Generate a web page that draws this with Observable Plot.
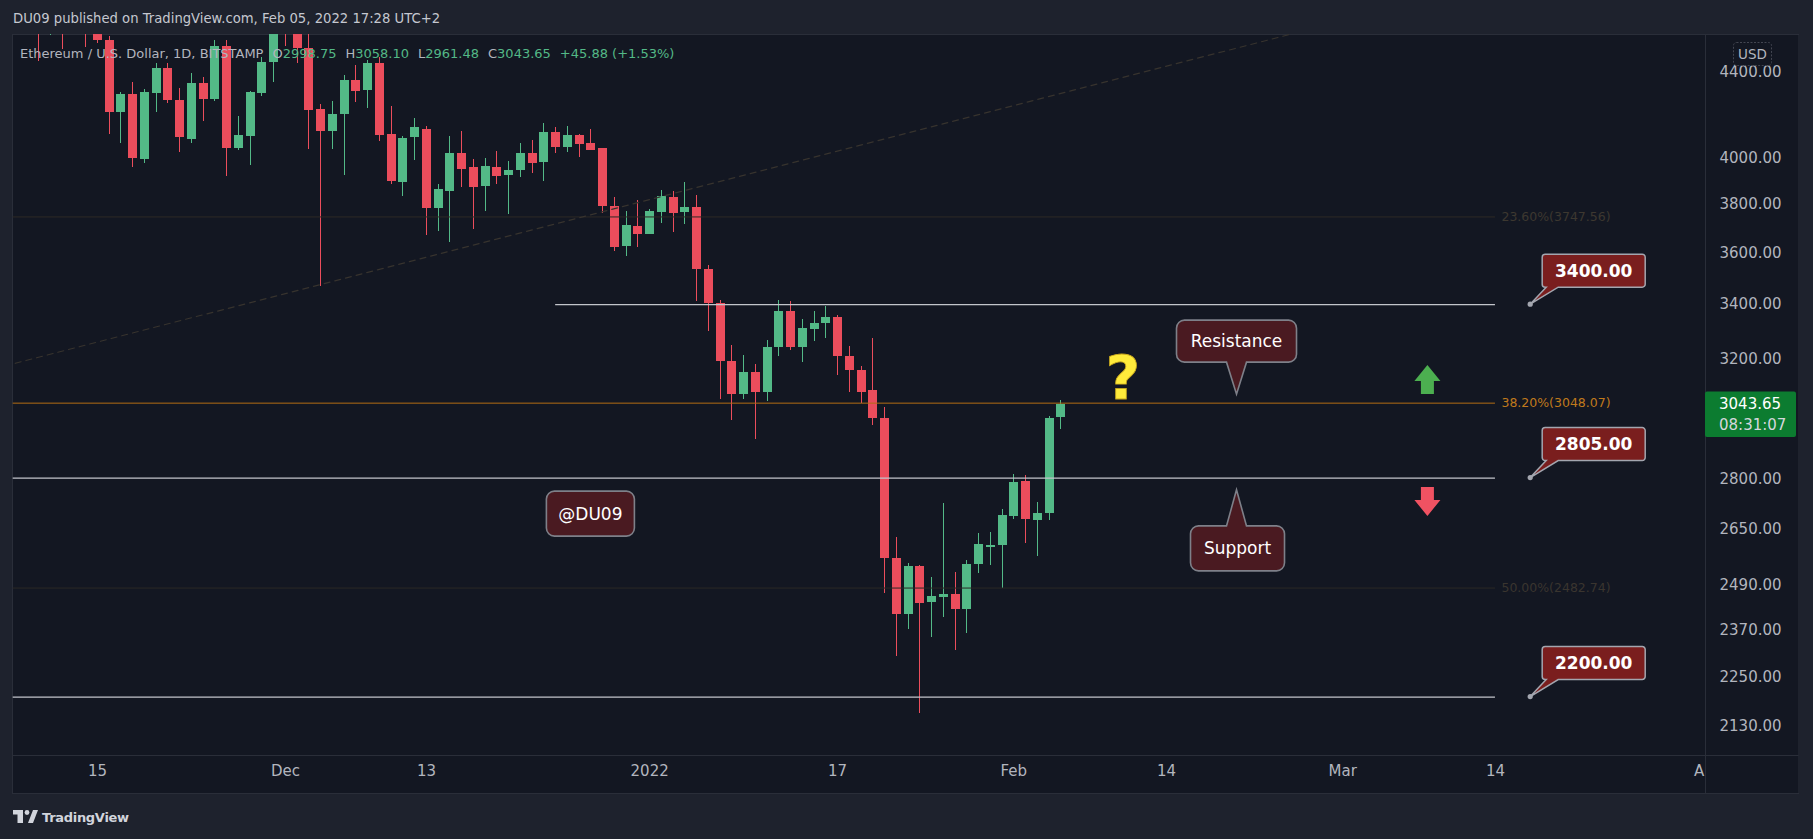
<!DOCTYPE html>
<html><head><meta charset="utf-8">
<script src="https://cdn.jsdelivr.net/npm/d3@7"></script>
<script src="https://cdn.jsdelivr.net/npm/@observablehq/plot@0.6"></script>
<style>
html,body{margin:0;padding:0;background:#1e222d;overflow:hidden;}
#chart svg{display:block}
</style></head><body><div id="chart"></div>
<script>
// ---------- data ----------
const firstDay = "2021-11-09", lastDay = "2022-02-05";
const open = [
 4810,4730,4630,4722,4665,4648,4626,4558,4209,4293,3996,4299,4419,4264,4085,4346,4271,4528,4045,4099,4299,4448,
 4630,4590,4518,4222,4122,4199,4360,4312,4443,4106,3894,4092,4129,3784,3856,4021,3959,3878,3959,3925,3947,4021,3982,4116,4049,4102,4066,4043,3793,3628,3708,
 3677,3767,3829,3767,3787,3536,3403,3193,3079,3154,3083,3242,3374,3242,3309,3330,3352,3211,3162,3090,2998,2566,2412,2543,2444,2458,2465,2425,2549,2598,2603,
 2689,2794,2677,2697,2998.75];
const high = [
 4840,4868,4778,4808,4707,4690,4774,4580,4302,4350,4315,4443,4443,4322,4394,4375,4558,4558,4189,4305,4471,4780,
 4780,4612,4650,4246,4260,4384,4433,4458,4474,4236,4097,4180,4143,3885,4097,4120,3994,3999,4030,3985,4066,4079,4157,4139,4143,4106,4129,4045,3829,3770,3818,
 3778,3859,3855,3894,3838,3551,3416,3249,3214,3182,3268,3416,3412,3345,3374,3393,3359,3246,3175,3275,3033,2626,2551,2545,2512,2727,2526,2560,2638,2641,2709,
 2816,2813,2730,3002,3058.10];
const low = [
 4700,4454,4585,4513,4600,4521,4545,4107,4067,3960,3978,4209,4252,4027,4067,4168,4258,3921,4036,3969,4285,4352,
 4528,4442,4039,3470,4039,3924,4255,4227,4076,3886,3834,3990,3672,3689,3644,3871,3697,3772,3886,3759,3917,3934,3899,4022,4027,4004,4034,3763,3608,3588,3624,
 3675,3722,3685,3718,3413,3301,3061,2991,3061,2929,3055,3211,3233,3190,3265,3276,3144,3085,3048,2974,2469,2302,2372,2161,2351,2404,2317,2361,2524,2547,2482,
 2680,2609,2572,2677,2961.48];
const close = [
 4730,4630,4722,4665,4648,4626,4558,4209,4293,4000,4302,4419,4264,4094,4346,4271,4528,4045,4102,4302,4448,4630,
 4590,4518,4217,4122,4199,4360,4307,4443,4102,3898,4088,4139,3784,3863,4021,3950,3873,3963,3921,3946,4021,3978,4116,4049,4102,4063,4036,3793,3624,3712,3677,
 3770,3834,3763,3787,3536,3403,3193,3079,3154,3083,3242,3374,3242,3311,3330,3352,3211,3162,3083,2998,2566,2412,2543,2441,2460,2465,2425,2549,2606,2603,2691,
 2791,2680,2697,2997.77,3043.65];

const priceTicks = [4400, 4000, 3800, 3600, 3400, 3200, 2800, 2650, 2490, 2370, 2250, 2130];
const timeTickDates = ["2021-11-15","2021-12-01","2021-12-13","2022-01-01","2022-01-17","2022-02-01","2022-02-14","2022-03-01","2022-03-14","2022-04-01"];
const timeTickLabels = ["15","Dec","13","2022","17","Feb","14","Mar","14","Apr"];

const levels = [3400, 2805, 2200];
const levelStart = ["2021-12-24", "2021-11-01", "2021-11-01"];
const drawEnd = "2022-03-14";
const tagDate = "2022-03-17";

const fibValues = [3747.56, 3048.07, 2482.74];
const fibNames = ["23.60%", "38.20%", "50.00%"];
const fibLine = ["#2e2a25", "#b46e14", "#2b2926"];
const fibText = ["#3d3830", "#c07a1c", "#3a352f"];

const trendDates = ["2021-11-08", "2022-03-01"];
const trendPrices = [3186, 4659];

const notes = [
  {text: "Resistance", date: "2022-02-20", price: 3077, side: "bottom"},
  {text: "Support", date: "2022-02-20", price: 2767, side: "top"},
  {text: "@DU09", date: "2021-12-27", price: 2695, side: "none"}
];
const question = {date: "2022-02-10T08:00:00Z", price: 3060};
const arrowUp = {date: "2022-03-08T06:00:00Z", price: 3178};
const arrowDown = {date: "2022-03-08T06:00:00Z", price: 2688};

const headerText = "DU09 published on TradingView.com, Feb 05, 2022 17:28 UTC+2";
const symbolText = "Ethereum / U.S. Dollar, 1D, BITSTAMP";
const countdown = "08:31:07";

// ---------- build ----------
const day = s => new Date(s.length > 10 ? s : s + "T00:00:00Z");
const DAY = 864e5;
const dates = d3.utcDay.range(day(firstDay), new Date(+day(lastDay) + DAY));
const candles = dates.map((d, i) => ({date: d, open: open[i], high: high[i], low: low[i], close: close[i]}));
const UP = "#53b987", DOWN = "#eb4d5c";
const col = d => d.close >= d.open ? UP : DOWN;
const x0 = +day("2021-11-15");
const xDomain = [new Date(x0 - 7.176 * DAY), new Date(x0 + 136.88 * DAY)];
const yDomain = [2061.8, 4588.4];
const FONT = "DejaVu Sans, Verdana, sans-serif";

const fibRows = fibValues.map((v, i) => ({p: v, name: fibNames[i], line: fibLine[i], tc: fibText[i]}));
const levelRows = levels.map((p, i) => ({p, x1: day(levelStart[i]), x2: day(drawEnd)}));
const trend = trendDates.map((d, i) => ({date: day(d), p: trendPrices[i]}));
const timeTicks = timeTickDates.map((d, i) => ({date: day(d), label: timeTickLabels[i]}));

function bubblePath(x0, y0, x1, y1, r, tipX, tipY, baseL, baseR, side) {
  let d = `M${x0 + r},${y0}`;
  if (side === "top") d += `H${baseL}L${tipX},${tipY}L${baseR},${y0}`;
  d += `H${x1 - r}A${r},${r} 0 0 1 ${x1},${y0 + r}V${y1 - r}A${r},${r} 0 0 1 ${x1 - r},${y1}`;
  if (side === "bottom") d += `H${baseR}L${tipX},${tipY}L${baseL},${y1}`;
  d += `H${x0 + r}A${r},${r} 0 0 1 ${x0},${y1 - r}V${y0 + r}A${r},${r} 0 0 1 ${x0 + r},${y0}Z`;
  return d;
}

function panel(index, scales, values, dims) {
  const g = d3.create("svg:g");
  g.append("rect").attr("x", 12.5).attr("y", 34.5).attr("width", 1786).attr("height", 759)
    .attr("fill", "#131722").attr("stroke", "#2a2e39");
  return g.node();
}

function annotations(index, scales) {
  const X = scales.x, Y = scales.y;
  const g = d3.create("svg:g").attr("font-family", FONT);
  levels.forEach(p => {
    const ax = X(day(tagDate)), ay = Y(p);
    const bx0 = ax + 12, bx1 = ax + 115, by0 = ay - 50, by1 = ay - 17;
    g.append("path").attr("d", bubblePath(bx0, by0, bx1, by1, 3, ax, ay, ax + 16, ax + 28, "bottom"))
      .attr("fill", "#7a1e1e").attr("stroke", "#a3a6af").attr("stroke-width", 1.5);
    g.append("circle").attr("cx", ax).attr("cy", ay).attr("r", 2.6).attr("fill", "#a3a6af");
    g.append("text").attr("x", (bx0 + bx1) / 2).attr("y", (by0 + by1) / 2).attr("dy", "0.36em")
      .attr("text-anchor", "middle").attr("fill", "#ffffff").attr("font-weight", "bold").attr("font-size", 17)
      .text(p.toFixed(2));
  });
  notes.forEach(n => {
    const tx = X(day(n.date)), ty = Y(n.price);
    let x0b, x1b, y0b, y1b;
    if (n.side === "bottom") { x0b = tx - 60; x1b = tx + 60; y1b = ty - 32; y0b = y1b - 42; }
    else if (n.side === "top") { x0b = tx - 46; x1b = tx + 48; y0b = ty + 36; y1b = y0b + 45; }
    else { x0b = tx - 44; x1b = tx + 44; y0b = ty - 22.5; y1b = ty + 22.5; }
    g.append("path").attr("d", bubblePath(x0b, y0b, x1b, y1b, 8, tx, ty, tx - 10, tx + 10, n.side))
      .attr("fill", "#4a1a21").attr("stroke", "#7e8089").attr("stroke-width", 1.6);
    g.append("text").attr("x", (x0b + x1b) / 2).attr("y", (y0b + y1b) / 2).attr("dy", "0.36em")
      .attr("text-anchor", "middle").attr("fill", "#ffffff").attr("font-size", 17).text(n.text);
  });
  g.append("text").attr("x", X(day(question.date))).attr("y", Y(question.price))
    .attr("text-anchor", "middle").attr("font-size", 60).attr("font-weight", "bold")
    .attr("fill", "#ffeb3b").attr("stroke", "#c9a81c").attr("stroke-width", 0.8).text("?");
  const ux = X(day(arrowUp.date)), uy = Y(arrowUp.price);
  g.append("path").attr("d", `M${ux},${uy}L${ux + 13},${uy + 16}H${ux + 6.5}V${uy + 29}H${ux - 6.5}V${uy + 16}H${ux - 13}Z`)
    .attr("fill", "#4caf50");
  const dx = X(day(arrowDown.date)), dy = Y(arrowDown.price);
  g.append("path").attr("d", `M${dx},${dy}L${dx + 13},${dy - 16}H${dx + 6.5}V${dy - 29}H${dx - 6.5}V${dy - 16}H${dx - 13}Z`)
    .attr("fill", "#f05262");
  return g.node();
}

function pricePane(index, scales, values, dims) {
  const g = d3.create("svg:g");
  const xr = dims.width - dims.marginRight;
  const yb = dims.height - dims.marginBottom;
  g.append("rect").attr("x", xr + 0.5).attr("y", 35).attr("width", 1798 - xr).attr("height", 758).attr("fill", "#131722");
  g.append("line").attr("x1", xr + 0.5).attr("x2", xr + 0.5).attr("y1", 34.5).attr("y2", 793.5).attr("stroke", "#2a2e39");
  g.append("line").attr("x1", 12.5).attr("x2", 1798.5).attr("y1", yb + 0.5).attr("y2", yb + 0.5).attr("stroke", "#2a2e39");
  return g.node();
}

function priceTag(index, scales, values, dims) {
  const Y = scales.y;
  const g = d3.create("svg:g").attr("font-family", FONT).attr("text-anchor", "start");
  const last = candles[candles.length - 1];
  const xr = dims.width - dims.marginRight;
  const yc = Y(last.close);
  g.append("rect").attr("x", xr).attr("y", yc - 12.5).attr("width", 91).attr("height", 45.5).attr("rx", 2).attr("fill", "#0c7c30");
  g.append("text").attr("x", xr + 14).attr("y", yc).attr("dy", "0.36em").attr("text-anchor", "start").attr("fill", "#ffffff").attr("font-size", 15).text(last.close.toFixed(2));
  g.append("text").attr("x", xr + 14).attr("y", yc + 20.5).attr("dy", "0.36em").attr("text-anchor", "start").attr("fill", "#d5d7dd").attr("font-size", 15).text(countdown);
  g.append("rect").attr("x", 1733.5).attr("y", 42.5).attr("width", 38).attr("height", 23).attr("rx", 3)
    .attr("fill", "#131722").attr("stroke", "#434651").attr("stroke-dasharray", "2,1.5");
  g.append("text").attr("x", 1752.5).attr("y", 54).attr("dy", "0.36em").attr("text-anchor", "middle")
    .attr("fill", "#b2b5be").attr("font-size", 13.5).text("USD");
  return g.node();
}

function header(index, scales, values, dims) {
  const g = d3.create("svg:g").attr("font-family", FONT).attr("text-anchor", "start");
  g.append("text").attr("x", 13).attr("y", 23).attr("text-anchor", "start").attr("fill", "#c5c8d0").attr("font-size", 13.2).text(headerText);
  const last = candles[candles.length - 1], prev = candles[candles.length - 2];
  const chg = last.close - prev.close, pct = chg / prev.close * 100;
  const sgn = v => (v >= 0 ? "+" : "") + v.toFixed(2);
  const t = g.append("text").attr("x", 20).attr("y", 58).attr("text-anchor", "start").attr("font-size", 13).attr("fill", "#b2b5be");
  t.append("tspan").text(symbolText);
  [["O", last.open], ["H", last.high], ["L", last.low], ["C", last.close]].forEach(([k, v]) => {
    t.append("tspan").attr("dx", 9).text(k);
    t.append("tspan").attr("fill", UP).text(v.toFixed(2));
  });
  t.append("tspan").attr("dx", 9).attr("fill", UP).text(`${sgn(chg)} (${sgn(pct)}%)`);
  const lg = g.append("g").attr("fill", "#d1d4dc");
  lg.append("rect").attr("x", 13).attr("y", 810).attr("width", 10).attr("height", 4.5);
  lg.append("rect").attr("x", 17.5).attr("y", 810).attr("width", 5.5).attr("height", 13);
  lg.append("circle").attr("cx", 27).attr("cy", 812.5).attr("r", 2.4);
  lg.append("path").attr("d", "M28,823L33,810H38L33,823Z");
  g.append("text").attr("x", 42).attr("y", 822).attr("text-anchor", "start").attr("fill", "#d1d4dc").attr("font-size", 13).attr("font-weight", "bold")
    .attr("letter-spacing", -0.3).text("TradingView");
  return g.node();
}

const chart = Plot.plot({
  width: 1813, height: 839,
  marginLeft: 12.7, marginRight: 108, marginTop: 34, marginBottom: 84,
  style: {background: "#1e222d", color: "#b2b5be", fontFamily: FONT, overflow: "visible"},
  x: {type: "utc", domain: xDomain, axis: null},
  y: {type: "log", domain: yDomain, axis: null},
  marks: [
    panel,
    Plot.ruleX(candles, {x: "date", y1: "low", y2: "high", stroke: col, strokeWidth: 1, clip: true, shapeRendering: "crispEdges"}),
    Plot.ruleX(candles, {x: "date", y1: "open", y2: "close", stroke: col, strokeWidth: 9, clip: true, shapeRendering: "crispEdges"}),
    Plot.ruleY(fibRows, {y: "p", x1: () => day("2021-11-01"), x2: () => day(drawEnd), stroke: "line", strokeWidth: 1, clip: true}),
    Plot.line(trend, {x: "date", y: "p", stroke: "#37332e", strokeWidth: 1.2, strokeDasharray: "6,5", clip: true}),
    Plot.ruleY(levelRows, {y: "p", x1: "x1", x2: "x2", stroke: "#c3c5cb", strokeWidth: 1.3, clip: true}),
    Plot.text(fibRows, {x: () => day(drawEnd), y: "p", dx: 6, textAnchor: "start", fill: "tc", fontSize: 12.5,
      text: d => `${d.name}(${d.p.toFixed(2)})`}),
    annotations,
    Plot.text(timeTicks, {x: "date", text: "label", frameAnchor: "bottom", dy: 20, fill: "#b2b5be", fontSize: 15}),
    pricePane,
    Plot.text(priceTicks, {y: d => d, text: d => d.toFixed(2), frameAnchor: "right", dx: 14, textAnchor: "start", fill: "#b2b5be", fontSize: 15}),
    priceTag,
    header
  ]
});
document.getElementById("chart").append(chart);
</script>
</body></html>
